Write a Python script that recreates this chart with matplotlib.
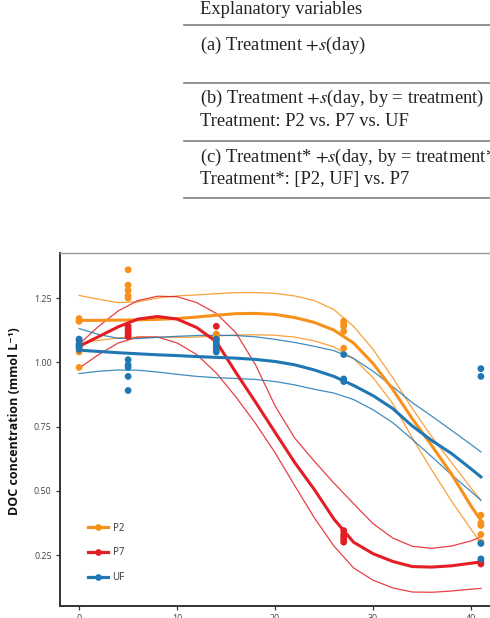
import numpy as np
import matplotlib
matplotlib.use("Agg")
import matplotlib.pyplot as plt
from matplotlib.lines import Line2D

plt.rcParams['mathtext.fontset'] = 'stix'

# ---------------- data ----------------
treatments = ["P2", "P7", "UF"]
colors = {"P2": "#F8911B", "P7": "#E31E24", "UF": "#1F78B4"}

obs_days = [0, 5, 14, 27, 41]
p2_obs = [[1.17, 1.16, 1.16, 1.04, 0.98],
          [1.36, 1.30, 1.28, 1.26, 1.25],
          [1.11, 1.10, 1.09],
          [1.16, 1.15, 1.14, 1.12, 1.055],
          [0.405, 0.375, 0.365, 0.33, 0.30]]
p7_obs = [[1.07, 1.06],
          [1.14, 1.13, 1.12, 1.11, 1.10],
          [1.14],
          [0.345, 0.33, 0.32, 0.31, 0.30],
          [0.225, 0.215]]
uf_obs = [[1.09, 1.085, 1.07, 1.06, 1.05],
          [1.01, 0.99, 0.98, 0.945, 0.89],
          [1.09, 1.08, 1.07, 1.06, 1.05, 1.04],
          [1.03, 0.935, 0.925],
          [0.975, 0.945, 0.295, 0.235]]

fit_days = [0, 2, 4, 6, 8, 10, 12, 14, 16, 18, 20, 22, 24, 26, 28, 30, 32, 34, 36, 38, 40, 41]
p2_fit = [1.163, 1.163, 1.164, 1.165, 1.167, 1.170, 1.176, 1.183, 1.189, 1.190, 1.186, 1.174,
          1.155, 1.125, 1.075, 0.995, 0.895, 0.78, 0.675, 0.565, 0.44, 0.385]
p2_hi = [1.26, 1.245, 1.232, 1.235, 1.25, 1.258, 1.262, 1.267, 1.271, 1.271, 1.268, 1.258,
         1.24, 1.205, 1.14, 1.05, 0.94, 0.82, 0.71, 0.61, 0.51, 0.463]
p2_lo = [1.073, 1.085, 1.095, 1.098, 1.098, 1.097, 1.098, 1.102, 1.106, 1.107, 1.105, 1.098,
         1.083, 1.06, 1.015, 0.94, 0.84, 0.705, 0.58, 0.46, 0.35, 0.296]
p7_fit = [1.062, 1.10, 1.138, 1.168, 1.178, 1.168, 1.135, 1.08, 0.96, 0.845, 0.727, 0.61,
          0.505, 0.39, 0.30, 0.255, 0.225, 0.205, 0.203, 0.208, 0.218, 0.223]
p7_hi = [1.07, 1.14, 1.20, 1.24, 1.257, 1.255, 1.232, 1.19, 1.115, 0.99, 0.83, 0.705,
         0.615, 0.53, 0.45, 0.372, 0.316, 0.284, 0.276, 0.285, 0.305, 0.32]
p7_lo = [0.977, 1.03, 1.075, 1.098, 1.098, 1.075, 1.03, 0.958, 0.865, 0.762, 0.648, 0.52,
         0.395, 0.285, 0.20, 0.152, 0.122, 0.106, 0.105, 0.11, 0.117, 0.12]
uf_fit = [1.047, 1.042, 1.037, 1.033, 1.029, 1.026, 1.022, 1.019, 1.016, 1.011, 1.003, 0.99,
          0.97, 0.945, 0.91, 0.87, 0.82, 0.752, 0.695, 0.645, 0.585, 0.554]
uf_hi = [1.131, 1.108, 1.093, 1.092, 1.097, 1.101, 1.104, 1.105, 1.104, 1.099, 1.089, 1.077,
         1.062, 1.045, 1.015, 0.965, 0.905, 0.843, 0.79, 0.735, 0.68, 0.651]
uf_lo = [0.956, 0.965, 0.97, 0.969, 0.962, 0.953, 0.945, 0.94, 0.937, 0.933, 0.925, 0.912,
         0.895, 0.88, 0.855, 0.815, 0.765, 0.70, 0.632, 0.562, 0.497, 0.463]

x_ticks = [0, 10, 20, 30, 40]
y_ticks = [0.25, 0.50, 0.75, 1.00, 1.25]
y_label = "DOC concentration (mmol L\u207b\u00b9)"

table_header = "Explanatory variables"
table_rows = [
    ["(a) Treatment $+s$(day)"],
    ["(b) Treatment $+s$(day, by = treatment)", "Treatment: P2 vs. P7 vs. UF"],
    ["(c) Treatment* $+s$(day, by = treatment*)", "Treatment*: [P2, UF] vs. P7"],
]

obs = {"P2": p2_obs, "P7": p7_obs, "UF": uf_obs}
fits = {"P2": (p2_fit, p2_lo, p2_hi), "P7": (p7_fit, p7_lo, p7_hi), "UF": (uf_fit, uf_lo, uf_hi)}

# ---------------- figure ----------------
W, H = 490, 618
fig = plt.figure(figsize=(W / 100, H / 100), dpi=100)

def fx(px):
    return px / W

def fy(py):
    return 1 - py / H

# table part
serif = ["Liberation Serif", "DejaVu Serif"]
tcol = "#222222"
TFS = 13.3
fig.text(fx(200), fy(9), table_header, fontsize=TFS, family=serif, color=tcol, va="center", ha="left")
rule_y = [25, 83, 141, 198]
for i, ry in enumerate(rule_y):
    fig.add_artist(Line2D([fx(184), 1.0], [fy(ry), fy(ry)], color="#7f7f7f",
                          lw=1.2, transform=fig.transFigure))
row_y = [[45], [98.5, 121.5], [157.5, 179.5]]
for lines, ys in zip(table_rows, row_y):
    for txt, yy in zip(lines, ys):
        fig.text(fx(200), fy(yy), txt, fontsize=TFS, family=serif, color=tcol, va="center", ha="left")

# chart
ax = fig.add_axes([fx(59.5), (H - 606) / H, 441 / W, (606 - 253) / H])
ax.set_xlim(-2, 43)
ax.set_ylim(0.0516, 1.4251)

for t in treatments:
    f, lo, hi = fits[t]
    c = colors[t]
    ax.plot(fit_days, hi, color=c, lw=0.9, alpha=0.85, zorder=2)
    ax.plot(fit_days, lo, color=c, lw=0.9, alpha=0.85, zorder=2)
    ax.plot(fit_days, f, color=c, lw=2.2, zorder=3)

for t in treatments:
    c = colors[t]
    xs, ys = [], []
    for d, vals in zip(obs_days, obs[t]):
        xs += [d] * len(vals)
        ys += vals
    ax.scatter(xs, ys, s=24, color=c, edgecolors="none", zorder=4)

sans = ["Open Sans", "DejaVu Sans"]
ax.set_xticks(x_ticks)
ax.set_yticks(y_ticks)
ax.set_yticklabels([f"{v:.2f}" for v in y_ticks], family=sans)
ax.set_xticklabels([str(v) for v in x_ticks], family=sans)
ax.tick_params(axis="both", length=2.6, width=0.9, color="#333333", labelsize=6.4,
               labelcolor="#444444")
ax.tick_params(axis="y", pad=3)
ax.tick_params(axis="x", pad=3.5)

for s in ["left", "bottom"]:
    ax.spines[s].set_color("#333333")
    ax.spines[s].set_linewidth(1.4)
ax.spines["top"].set_color("#9a9a9a")
ax.spines["top"].set_linewidth(1.0)
ax.spines["right"].set_color("#9a9a9a")
ax.spines["right"].set_linewidth(1.0)

fig.text(fx(15), fy(421), y_label, rotation=90, fontsize=9.0, fontweight="bold",
         family=sans, color="#111111", ha="center", va="center")

handles = [Line2D([0], [0], color=colors[t], lw=2.3, marker="o", markersize=3.8) for t in treatments]
leg = ax.legend(handles, treatments, loc="lower left", bbox_to_anchor=(fx(79), fy(592)),
                bbox_transform=fig.transFigure, frameon=False, handlelength=2.05,
                handletextpad=0.5, labelspacing=1.42, prop={"family": sans, "size": 7})
for txt in leg.get_texts():
    txt.set_color("#333333")

fig.savefig("out.png", dpi=100)
